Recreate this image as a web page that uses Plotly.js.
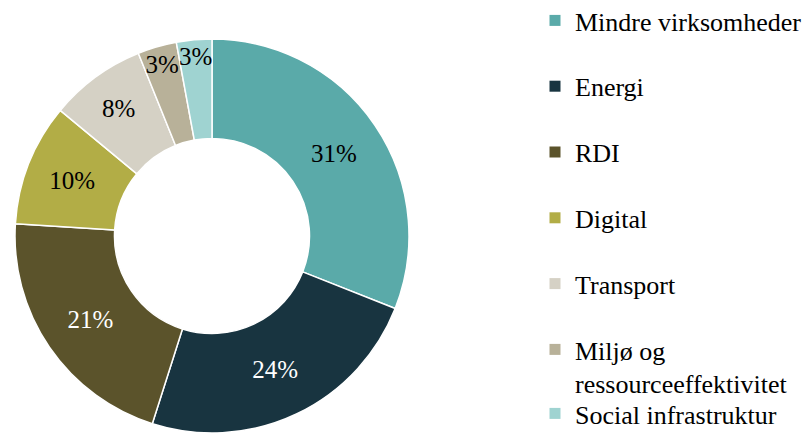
<!DOCTYPE html>
<html>
<head>
<meta charset="utf-8">
<script src="https://cdn.plot.ly/plotly-3.0.1.min.js"></script>
<style>html,body{margin:0;padding:0;background:#fff;}#chart{width:811px;height:434px;}</style>
</head>
<body>
<div id="chart"></div>
<script>
const categories = ['Mindre virksomheder', 'Energi', 'RDI', 'Digital', 'Transport', 'Miljø og ressourceeffektivitet', 'Social infrastruktur'];
const legendLabels = ['Mindre virksomheder', 'Energi', 'RDI', 'Digital', 'Transport', 'Miljø og<br>ressourceeffektivitet', 'Social infrastruktur'];
const shares = [31.0, 23.9, 21.1, 10.0, 7.9, 3.2, 2.9];
const colors = ['#5aaaa9', '#183440', '#5b532b', '#b2ad46', '#d5d1c5', '#b8b199', '#9fd3d1'];
const textColors = ['#000000', '#ffffff', '#ffffff', '#000000', '#000000', '#000000', '#000000'];

const FONT = '"Liberation Serif", "Times New Roman", serif';

const traces = [{
  type: 'pie',
  labels: categories,
  values: shares,
  sort: false,
  direction: 'clockwise',
  rotation: 0,
  hole: 0.495,
  marker: {colors: colors, line: {color: '#ffffff', width: 1.5}},
  texttemplate: '%{percent:.0%}',
  textposition: 'inside',
  insidetextorientation: 'horizontal',
  textfont: {family: FONT, size: 25, color: textColors},
  showlegend: false,
  domain: {x: [15/811, 409/811], y: [1/434, 395/434]},
  hoverinfo: 'label+percent'
}];

// legend entries (one per category)
categories.forEach(function (c, i) {
  traces.push({
    type: 'scatter',
    mode: 'markers',
    x: [null], y: [null],
    name: legendLabels[i],
    legendgroup: 'g' + i,
    legend: i === categories.length - 1 ? 'legend2' : 'legend',
    marker: {symbol: 'square', size: 11, color: colors[i]},
    hoverinfo: 'skip'
  });
});

const layout = {
  width: 811, height: 434,
  margin: {l: 0, r: 0, t: 0, b: 0, autoexpand: false},
  paper_bgcolor: '#ffffff', plot_bgcolor: '#ffffff',
  font: {family: FONT, size: 26, color: '#000000'},
  xaxis: {visible: false}, yaxis: {visible: false},
  uniformtext: {mode: 'show', minsize: 25},
  legend: {
    x: 535/811, xanchor: 'left', y: 1 + 3/434, yanchor: 'top',
    tracegroupgap: 29, valign: 'top', maxheight: 440,
    font: {family: FONT, size: 26, color: '#000000'},
    bgcolor: 'rgba(0,0,0,0)'
  },
  legend2: {
    x: 535/811, xanchor: 'left', y: 1 - 390/434, yanchor: 'top',
    valign: 'top', maxheight: 100,
    font: {family: FONT, size: 26, color: '#000000'},
    bgcolor: 'rgba(0,0,0,0)'
  }
};

Plotly.newPlot('chart', traces, layout, {displayModeBar: false, responsive: false});
</script>
</body>
</html>
